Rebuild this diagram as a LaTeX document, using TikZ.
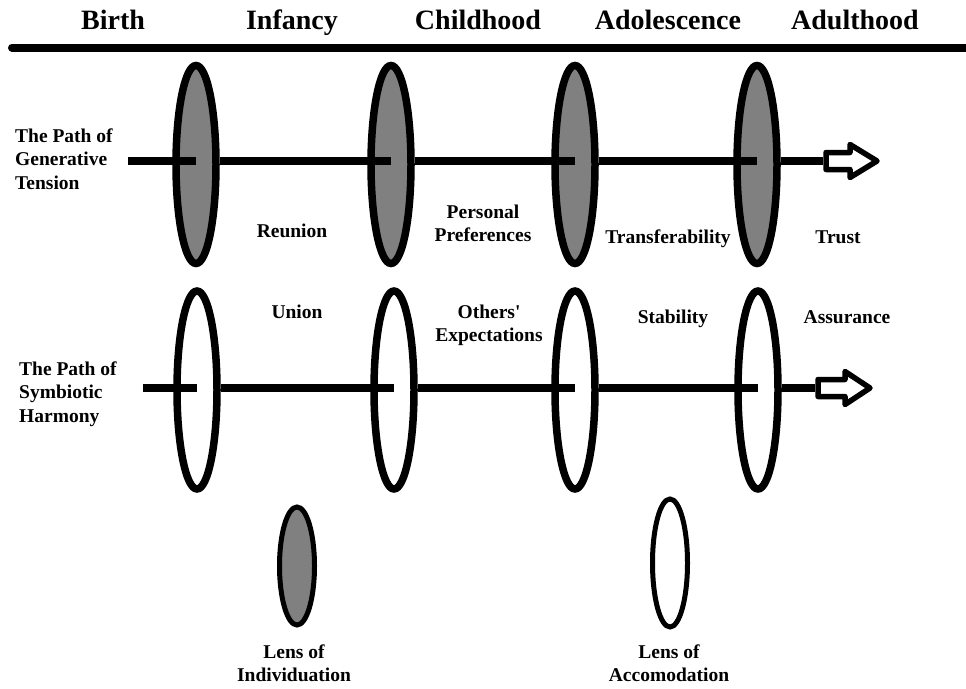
\documentclass[tikz,border=0pt]{standalone}
\usepackage{fontspec}
\setmainfont{Liberation Serif}
\usetikzlibrary{shapes.geometric}
\definecolor{lensgray}{RGB}{128,128,128}
% stacked lines, first line's baseline is the box baseline
\newcommand\cstack[1]{\vtop{\halign{\hfil##\hfil\cr#1\crcr}}}
\newcommand\lstack[1]{\vtop{\halign{##\hfil\cr#1\crcr}}}

\begin{document}
\begin{tikzpicture}[x=1pt,y=-1pt,
  stagetext/.style={font=\fontsize{28}{32}\selectfont\bfseries, anchor=base, inner sep=0pt},
  txt/.style={font=\fontsize{19.5}{23.5}\selectfont\bfseries, anchor=base, inner sep=0pt},
  biglens/.style={ellipse, draw=black, line width=7.5pt, minimum width=40pt, minimum height=198pt, inner sep=0pt},
  smalllens/.style={ellipse, draw=black, line width=5pt, minimum width=35pt, inner sep=0pt},
  darkfill/.style={fill=lensgray},
  lightfill/.style={fill=white},
  track/.style={line width=8pt, line cap=butt},
  blockarrow/.style={draw=black, fill=white, line width=5.5pt, line join=round}]

\fill[white] (0,0) rectangle (966,688);
\useasboundingbox (0,0) rectangle (966,688);

% life stages and timeline bar
\node[stagetext] (sBirth) at (113,29) {Birth};
\node[stagetext] (sInfancy) at (292,29) {Infancy};
\node[stagetext] (sChild) at (478,29) {Childhood};
\node[stagetext] (sAdol) at (668,29) {Adolescence};
\node[stagetext] (sAdult) at (855,29) {Adulthood};
\coordinate (barL) at (12,47.5);
\coordinate (barR) at (972,47.5);
\draw[line width=8pt, line cap=round] (barL) -- (barR);

% path of generative tension
\node[biglens, darkfill] (g1) at (196,164.5) {};
\node[biglens, darkfill] (g2) at (391,164.5) {};
\node[biglens, darkfill] (g3) at (575,164.5) {};
\node[biglens, darkfill] (g4) at (757,164.5) {};
\coordinate (gstart) at (128,161);
\coordinate (gtail) at (823,161);
\draw[track] (gstart) -- (gstart -| g1.center);
\draw[track] (gstart -| g1.east) -- (gstart -| g2.center);
\draw[track] (gstart -| g2.east) -- (gstart -| g3.center);
\draw[track] (gstart -| g3.east) -- (gstart -| g4.center);
\draw[track] (gstart -| g4.east) -- (gtail);
\draw[blockarrow] (gtail) ++(3,-8.5) -- ++(24,0) -- ++(0,-8) -- ++(27,16.5)
  -- ++(-27,16.5) -- ++(0,-8) -- ++(-24,0) -- cycle;

% path of symbiotic harmony
\node[biglens, lightfill] (h1) at (197,390) {};
\node[biglens, lightfill] (h2) at (394,390) {};
\node[biglens, lightfill] (h3) at (575,390) {};
\node[biglens, lightfill] (h4) at (758,390) {};
\coordinate (hstart) at (143,388);
\coordinate (htail) at (815,388);
\draw[track] (hstart) -- (hstart -| h1.center);
\draw[track] (hstart -| h1.east) -- (hstart -| h2.center);
\draw[track] (hstart -| h2.east) -- (hstart -| h3.center);
\draw[track] (hstart -| h3.east) -- (hstart -| h4.center);
\draw[track] (hstart -| h4.east) -- (htail);
\draw[blockarrow] (htail) ++(3,-8.5) -- ++(27,0) -- ++(0,-8) -- ++(25,16.5)
  -- ++(-25,16.5) -- ++(0,-8) -- ++(-27,0) -- cycle;

% path names
\node[txt, anchor=base west] (gname) at (15,142) {\lstack{The Path of\cr Generative\cr Tension}};
\node[txt, anchor=base west] (hname) at (19,375) {\lstack{The Path of\cr Symbiotic\cr Harmony}};

% qualities between the lenses
\node[txt] (reunion) at (292,237) {Reunion};
\node[txt] (prefs) at (483,218) {\cstack{Personal\cr Preferences}};
\node[txt] (transfer) at (668,243) {Transferability};
\node[txt] (trust) at (838,243) {Trust};
\node[txt] (union) at (297,318) {Union};
\node[txt] (expect) at (489,318) {\cstack{Others\textquotesingle\cr Expectations}};
\node[txt] (stability) at (673,323) {Stability};
\node[txt] (assurance) at (847,323) {Assurance};

% legend lenses
\node[smalllens, darkfill, minimum height=118pt] (lensI) at (297,566) {};
\node[smalllens, lightfill, minimum height=128pt] (lensA) at (670,563) {};
\node[txt] (lensIname) at (294,658) {\cstack{Lens of\cr Individuation}};
\node[txt] (lensAname) at (669,658) {\cstack{Lens of\cr Accomodation}};
\end{tikzpicture}
\end{document}
